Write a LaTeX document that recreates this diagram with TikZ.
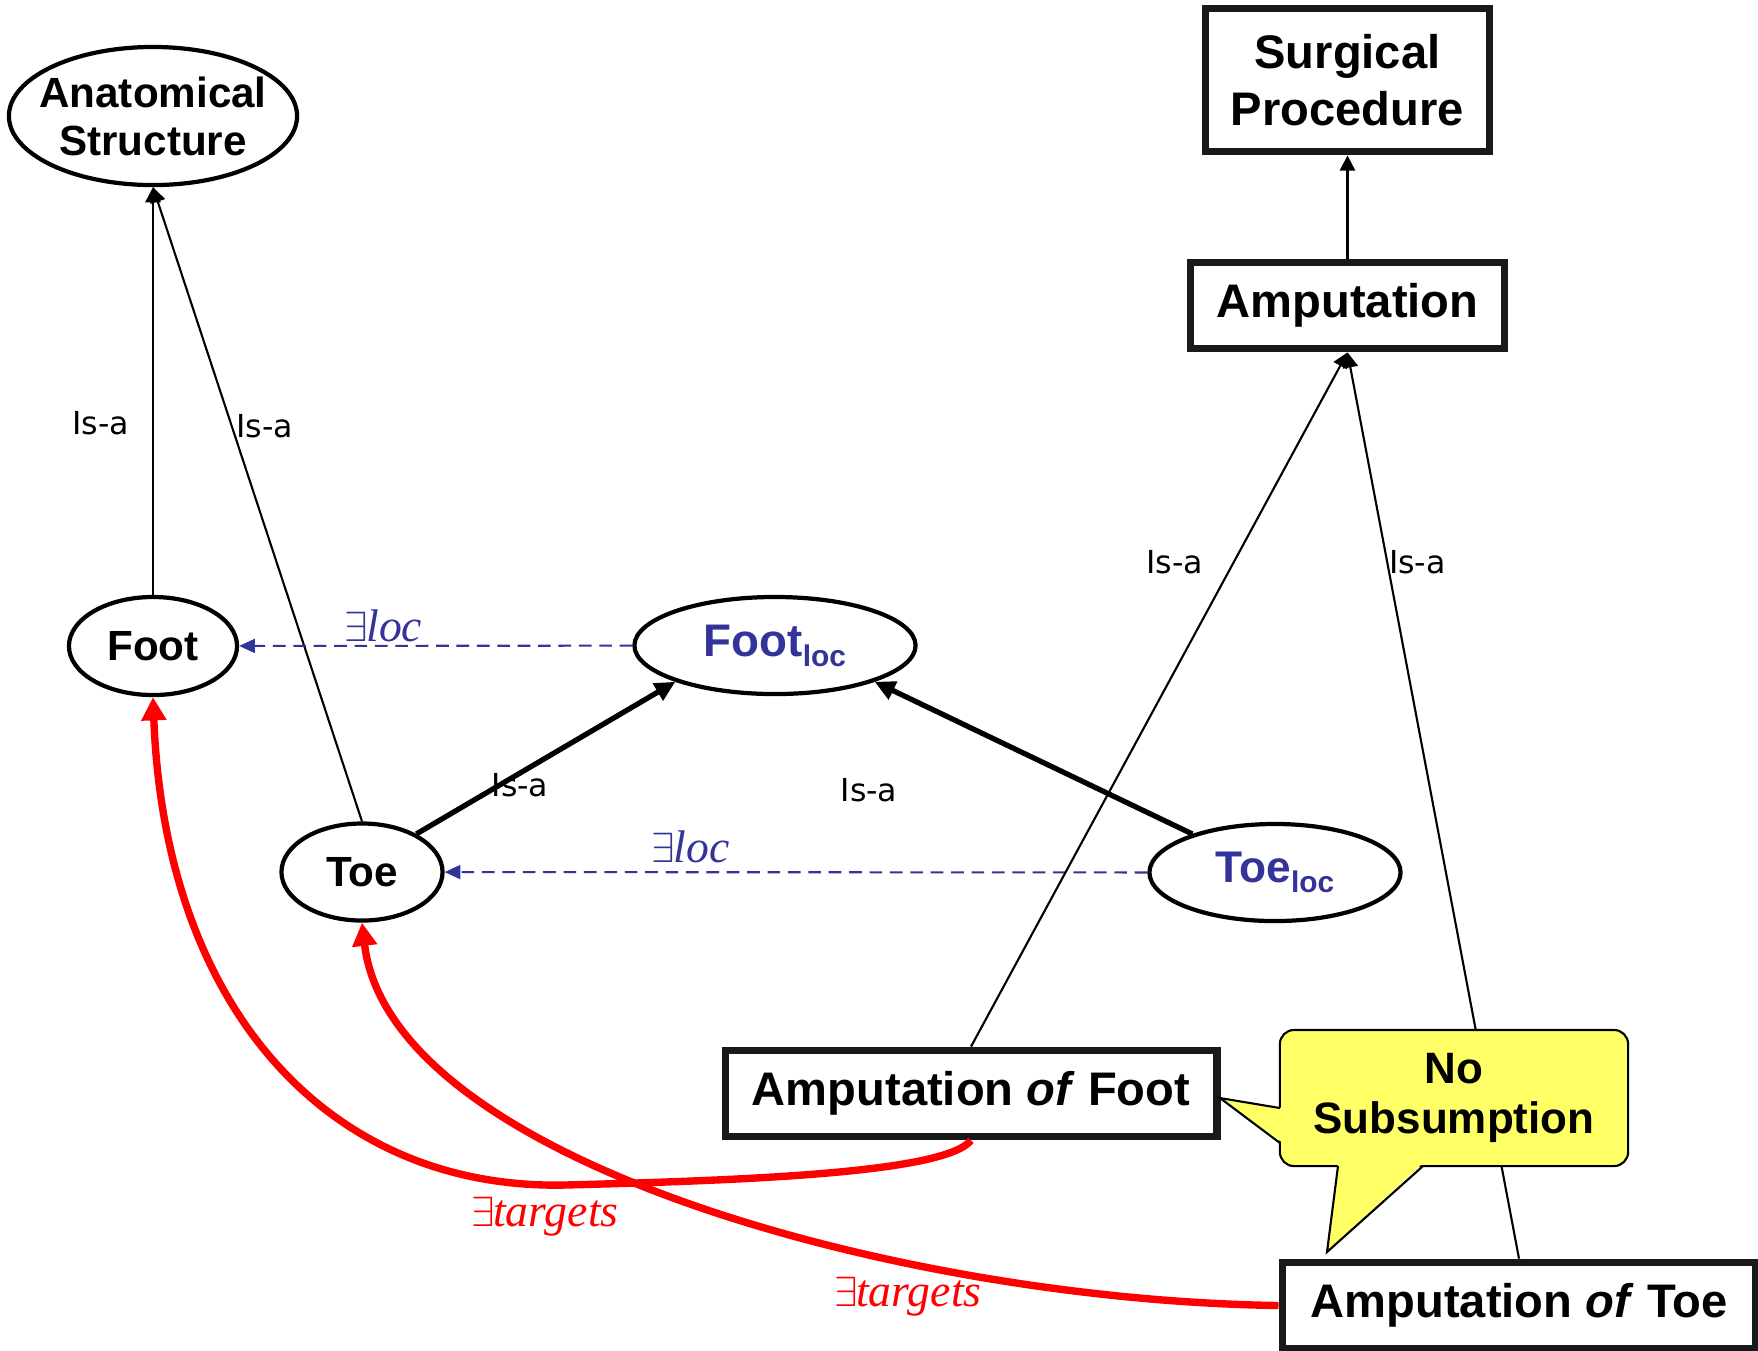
\documentclass[tikz,border=0pt]{standalone}
\usepackage{fontspec}
\newfontfamily\arialfont{Liberation Sans}
\newfontfamily\isafont{DejaVu Sans}
\newfontfamily\timesfont{Liberation Serif}
\usepackage{tikz}
\usetikzlibrary{shapes.geometric, arrows.meta}
\definecolor{locblue}{RGB}{51,51,153}
\definecolor{notefill}{RGB}{255,255,102}
\newcommand{\locsub}{\raisebox{-2.9pt}{\fontsize{8.5}{8.5}\selectfont loc}}
\newcommand{\exrel}[1]{$\exists$\kern-0.5pt{\timesfont\itshape #1}}
\tikzstyle{isa} = [line width=0.6pt,-{Triangle[length=4.3pt,width=4.3pt]}]
\tikzstyle{isathick} = [line width=1.5pt,-{Triangle[length=5.8pt,width=5.4pt]}]
\tikzstyle{exloc} = [locblue, line width=0.6pt, dash pattern=on 3.6pt off 2.2pt,-{Triangle[length=4.5pt,width=4pt]}]
\tikzstyle{targets} = [red, line width=2.1pt,-{Triangle[length=6.6pt,width=6.8pt]}]

\begin{document}
\begin{tikzpicture}[
				x=0.01cm, y=-0.01cm,
				concept/.style= {draw, ellipse, line width=1.2pt, inner sep=0pt, align=center,
					font = {\arialfont\bfseries\fontsize{12}{13.7}\selectfont}},
				proc/.style= {draw=black!90, rectangle, line width=2.2pt, inner sep=0pt, align=center,
					font = {\arialfont\bfseries\fontsize{13.4}{16.2}\selectfont}},
				lbl/.style= {inner sep=0pt, font = {\isafont\fontsize{9}{10}\selectfont}},
				rel/.style= {inner sep=0pt, font = {\fontsize{13}{13}\selectfont}}
			]
			\useasboundingbox (0,0) rectangle (1758,1350);
			
			% anatomy side
			\node (anat) [concept, inner xsep=-0.2cm, minimum width=2.88cm, minimum height=1.38cm] at (153,116) {Anatomical\\Structure};
			\node (foot) [concept, minimum width=1.68cm, minimum height=0.98cm] at (153,646) {Foot};
			\node (toe) [concept, minimum width=1.61cm, minimum height=0.97cm] at (362,872) {Toe};
			\node (footloc) [concept, locblue, draw=black, font={\arialfont\bfseries\fontsize{13}{14}\selectfont},
				minimum width=2.81cm, minimum height=0.97cm] at (775,645.5) {Foot\locsub};
			\node (toeloc) [concept, locblue, draw=black, font={\arialfont\bfseries\fontsize{12.6}{14}\selectfont},
				minimum width=2.51cm, minimum height=0.97cm] at (1275,872.5) {Toe\locsub};
			
			% procedure side
			\node (surg) [proc, minimum width=2.84cm, minimum height=1.43cm] at (1347.5,80) {Surgical\\Procedure};
			\node (amp) [proc, minimum width=3.14cm, minimum height=0.86cm] at (1347.5,305.5) {Amputation};
			\node (ampfoot) [proc, minimum width=4.91cm, minimum height=0.86cm] at (971,1093.5) {Amputation \textit{of} Foot};
			\node (amptoe) [proc, minimum width=4.73cm, minimum height=0.86cm] at (1519,1305.5) {Amputation \textit{of} Toe};
			
			\draw [isa] (foot) -- (anat.south) node [lbl, pos=0.42, xshift=-0.52cm] (isa1) {Is-a};
			\draw [isa] (toe.north) -- (anat.south) node [lbl, pos=0.623, xshift=0.33cm] (isa2) {Is-a};
			\draw [isathick] (toe.35) -- (footloc.200) node [lbl, pos=0.4, yshift=-0.125cm] (isa3) {Is-a};
			\draw [isathick] (toeloc.155) -- (footloc.340);
			\node (isa4) [lbl] at (869,790) {Is-a};
			
			\draw [exloc] (footloc) -- (foot) node [rel, locblue, pos=0.633, yshift=0.2cm] (loc1) {\exrel{loc}};
			\draw [exloc] (toeloc) -- (toe) node [rel, locblue, pos=0.65, yshift=0.25cm] (loc2) {\exrel{loc}};
			
			\draw [isa] (amp) -- (surg);
			\draw [isa] (ampfoot.north) -- (amp.south) node [lbl, pos=0.698, xshift=-0.59cm] (isa5) {Is-a};
			\draw [isa] (amptoe.north) -- (amp.south) node [lbl, pos=0.768, xshift=0.3cm] (isa6) {Is-a};
			
			% targets
			\coordinate (bend1) at (565,1185);
			\draw [targets] (ampfoot.south) .. controls (945,1172) and (760,1180) .. (bend1)
				.. controls (330,1190) and (165,1010) .. (foot.south);
			\draw [targets] (amptoe.west) .. controls (900,1300) and (390,1160) .. (toe.south);
			\node (tgt1) [rel, red] at (545,1217) {\exrel{targets}};
			\node (tgt2) [rel, red] at (908,1297) {\exrel{targets}};
			
			% callout
			\node (note) [draw, fill=notefill, rounded corners=4pt, line width=0.6pt, minimum width=3.48cm, minimum height=1.36cm, align=center,
				font = {\arialfont\bfseries\fontsize{12.5}{14.2}\selectfont}] at (1454,1098) {No\\Subsumption};
			\coordinate (tipA) at (1220,1098);
			\coordinate (tipB) at (1327,1252);
			\fill [notefill] (tipA) -- (1283,1108) -- (1283,1143) -- cycle;
			\draw [line width=0.6pt] (1280,1108) -- (tipA) -- (1280,1143);
			\fill [notefill] (tipB) -- (1338,1163) -- (1423,1163) -- cycle;
			\draw [line width=0.6pt] (1338,1166) -- (tipB) -- (1423,1166);
		\end{tikzpicture}
\end{document}
